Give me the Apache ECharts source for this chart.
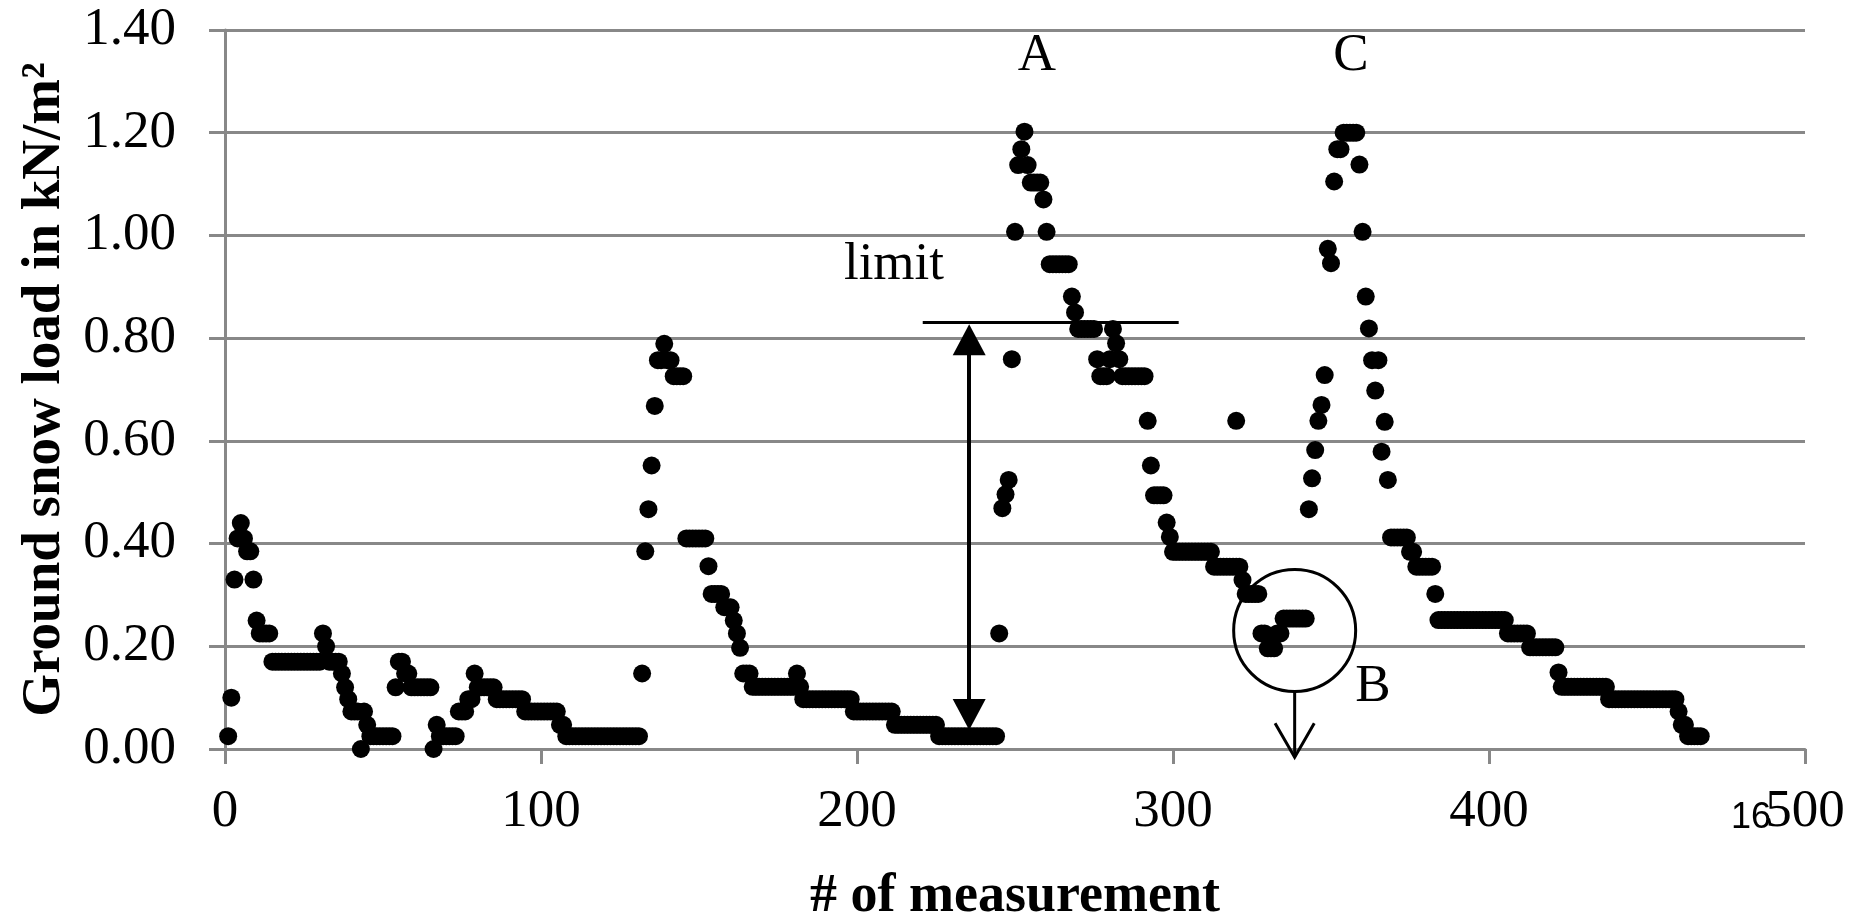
<!DOCTYPE html>
<html>
<head>
<meta charset="utf-8">
<script src="https://cdn.jsdelivr.net/npm/echarts@6/dist/echarts.min.js"></script>
<style>
html,body{margin:0;padding:0;background:#fff;}
#chart{width:1858px;height:914px;}
</style>
</head>
<body>
<div id="chart"></div>
<script>
// Ground snow load (kN/m2) for measurement #1, #2, #3, ...
const snowLoad = [
  0.025,0.10,0.33,0.41,0.44,0.41,0.385,0.385,0.33,0.25,
  0.225,0.225,0.225,0.225,0.17,0.17,0.17,0.17,0.17,0.17,
  0.17,0.17,0.17,0.17,0.17,0.17,0.17,0.17,0.17,0.17,
  0.225,0.2,0.17,0.17,0.17,0.17,0.147,0.12,0.097,0.073,
  0.073,0.073,0.0,0.073,0.047,0.025,0.025,0.025,0.025,0.025,
  0.025,0.025,0.025,0.12,0.17,0.17,0.147,0.147,0.12,0.12,
  0.12,0.12,0.12,0.12,0.12,0.0,0.047,0.025,0.025,0.025,
  0.025,0.025,0.025,0.073,0.073,0.073,0.097,0.097,0.147,0.12,
  0.12,0.12,0.12,0.12,0.12,0.097,0.097,0.097,0.097,0.097,
  0.097,0.097,0.097,0.097,0.073,0.073,0.073,0.073,0.073,0.073,
  0.073,0.073,0.073,0.073,0.073,0.047,0.047,0.025,0.025,0.025,
  0.025,0.025,0.025,0.025,0.025,0.025,0.025,0.025,0.025,0.025,
  0.025,0.025,0.025,0.025,0.025,0.025,0.025,0.025,0.025,0.025,
  0.025,0.147,0.385,0.467,0.552,0.668,0.757,0.757,0.789,0.757,
  0.757,0.726,0.726,0.726,0.726,0.41,0.41,0.41,0.41,0.41,
  0.41,0.41,0.356,0.302,0.302,0.302,0.302,0.276,0.276,0.276,
  0.25,0.225,0.197,0.147,0.147,0.147,0.121,0.121,0.121,0.121,
  0.121,0.121,0.121,0.121,0.121,0.121,0.121,0.121,0.121,0.121,
  0.147,0.121,0.097,0.097,0.097,0.097,0.097,0.097,0.097,0.097,
  0.097,0.097,0.097,0.097,0.097,0.097,0.097,0.097,0.073,0.073,
  0.073,0.073,0.073,0.073,0.073,0.073,0.073,0.073,0.073,0.073,
  0.073,0.047,0.047,0.047,0.047,0.047,0.047,0.047,0.047,0.047,
  0.047,0.047,0.047,0.047,0.047,0.025,0.025,0.025,0.025,0.025,
  0.025,0.025,0.025,0.025,0.025,0.025,0.025,0.025,0.025,0.025,
  0.025,0.025,0.025,0.025,0.225,0.469,0.496,0.524,0.759,1.007,
  1.137,1.168,1.202,1.137,1.103,1.103,1.103,1.103,1.07,1.007,
  0.944,0.944,0.944,0.944,0.944,0.944,0.944,0.881,0.85,0.818,
  0.818,0.818,0.818,0.818,0.818,0.759,0.726,0.726,0.726,0.759,
  0.818,0.79,0.759,0.726,0.726,0.726,0.726,0.726,0.726,0.726,
  0.726,0.639,0.552,0.494,0.494,0.494,0.494,0.441,0.413,0.384,
  0.384,0.384,0.384,0.384,0.384,0.384,0.384,0.384,0.384,0.384,
  0.384,0.384,0.355,0.355,0.355,0.355,0.355,0.355,0.355,0.355,
  0.355,0.329,0.302,0.302,0.302,0.302,0.302,0.225,0.225,0.196,
  0.196,0.196,0.225,0.225,0.254,0.254,0.254,0.254,0.254,0.254,
  0.254,0.254,0.467,0.527,0.582,0.639,0.67,0.728,0.974,0.946,
  1.105,1.168,1.168,1.2,1.2,1.2,1.2,1.2,1.138,1.007,
  0.881,0.819,0.757,0.698,0.757,0.579,0.637,0.524,0.412,0.412,
  0.412,0.412,0.412,0.412,0.384,0.384,0.355,0.355,0.355,0.355,
  0.355,0.355,0.302,0.251,0.251,0.251,0.251,0.251,0.251,0.251,
  0.251,0.251,0.251,0.251,0.251,0.251,0.251,0.251,0.251,0.251,
  0.251,0.251,0.251,0.251,0.251,0.225,0.225,0.225,0.225,0.225,
  0.225,0.225,0.198,0.198,0.198,0.198,0.198,0.198,0.198,0.198,
  0.198,0.149,0.121,0.121,0.121,0.121,0.121,0.121,0.121,0.121,
  0.121,0.121,0.121,0.121,0.121,0.121,0.121,0.097,0.097,0.097,
  0.097,0.097,0.097,0.097,0.097,0.097,0.097,0.097,0.097,0.097,
  0.097,0.097,0.097,0.097,0.097,0.097,0.097,0.097,0.097,0.073,
  0.047,0.047,0.025,0.025,0.025,0.025,0.025
];
// an additional reading plotted at measurement #320
const extraMeasurement = [320];
const extraLoad = [0.639];

const xTickValues = [0, 100, 200, 300, 400, 500];
const yTickValues = [0, 0.2, 0.4, 0.6, 0.8, 1.0, 1.2, 1.4];

// annotation anchors (data coordinates)
const limitLevel = 0.831;
const limitFrom = 220.8, limitTo = 301.8;
const arrowX = 235.5, arrowTop = 0.797, arrowBottom = 0.067;
const circleB = [338.5, 0.2307];
const arrowBFrom = 0.1116, arrowBTip = -0.016, arrowBHeadY = 0.050, arrowBHeadHalf = 6.2;
const labelA = [256.9, 1.350], labelC = [356.3, 1.350];
const labelLimit = [211.7, 0.942], labelB = [363.3, 0.120];

const points = snowLoad.map((v, i) => [i + 1, v]);
extraMeasurement.forEach((m, i) => points.push([m, extraLoad[i]]));

const FONT = 'Liberation Serif';
const GRAY = '#888888';

const chart = echarts.init(document.getElementById('chart'), null, {renderer: 'canvas'});

function textPoint(coord, text) {
  return {
    coord: coord, symbol: 'circle', symbolSize: 1,
    itemStyle: {color: 'rgba(0,0,0,0)', borderWidth: 0},
    label: {show: true, position: 'inside', formatter: text,
      fontFamily: FONT, fontSize: 53, color: '#000'}
  };
}

chart.setOption({
  animation: false,
  backgroundColor: '#fff',
  grid: {left: 225, right: 53, top: 30, bottom: 165, containLabel: false, outerBoundsMode: 'none'},
  xAxis: {
    type: 'value', min: xTickValues[0], max: xTickValues[xTickValues.length - 1],
    interval: xTickValues[1] - xTickValues[0],
    axisLine: {show: true, lineStyle: {color: GRAY, width: 3}},
    axisTick: {show: true, length: 15, lineStyle: {color: GRAY, width: 3}},
    splitLine: {show: false},
    axisLabel: {fontFamily: FONT, fontSize: 53, color: '#000', margin: 37},
    name: '# of measurement', nameLocation: 'middle', nameGap: 121,
    nameTextStyle: {fontFamily: FONT, fontSize: 54, fontWeight: 'bold', color: '#000'}
  },
  yAxis: {
    type: 'value', min: yTickValues[0], max: yTickValues[yTickValues.length - 1],
    interval: yTickValues[1] - yTickValues[0],
    axisLine: {show: true, lineStyle: {color: GRAY, width: 3}},
    axisTick: {show: true, length: 16, lineStyle: {color: GRAY, width: 3}},
    splitLine: {show: true, lineStyle: {color: GRAY, width: 3}},
    axisLabel: {fontFamily: FONT, fontSize: 53, color: '#000', margin: 49,
      formatter: v => v.toFixed(2)},
    name: 'Ground snow load in kN/m²', nameLocation: 'middle', nameRotate: 90, nameGap: 149,
    nameTextStyle: {fontFamily: FONT, fontSize: 55, fontWeight: 'bold', color: '#000'}
  },
  series: [{
    type: 'scatter',
    data: points,
    symbol: 'circle',
    symbolSize: 18,
    itemStyle: {color: '#000', opacity: 1},
    clip: false,
    silent: true,
    markLine: {
      silent: true, animation: false,
      symbol: ['none', 'none'],
      label: {show: false},
      lineStyle: {color: '#000', width: 3, type: 'solid', opacity: 1},
      emphasis: {disabled: true},
      data: [
        [{coord: [limitFrom, limitLevel]}, {coord: [limitTo, limitLevel]}],
        [{coord: [arrowX, arrowTop], symbol: 'triangle', symbolSize: [33, 31]},
         {coord: [arrowX, arrowBottom], symbol: 'triangle', symbolSize: [33, 31],
          lineStyle: {width: 4}}]
      ]
    },
    markPoint: {
      silent: true, animation: false,
      data: [
        {coord: circleB, symbol: 'circle', symbolSize: 122,
          itemStyle: {color: 'rgba(0,0,0,0)', borderColor: '#000', borderWidth: 3},
          label: {show: false}},
        textPoint(labelA, 'A'),
        textPoint(labelC, 'C'),
        textPoint(labelLimit, 'limit'),
        textPoint(labelB, 'B')
      ]
    }
  }]
});

// arrow leaving circle B, placed through the chart's own scales
const px = (x, y) => chart.convertToPixel({gridIndex: 0}, [x, y]);
const bFrom = px(circleB[0], arrowBFrom);
const bTip = px(circleB[0], arrowBTip);
const bLeft = px(circleB[0] - arrowBHeadHalf, arrowBHeadY);
const bRight = px(circleB[0] + arrowBHeadHalf, arrowBHeadY);
const sixteen = px(500, 0);

chart.setOption({
  graphic: [
    {type: 'line', id: 'bShaft', silent: true, z: 10,
      shape: {x1: bFrom[0], y1: bFrom[1], x2: bTip[0], y2: bTip[1]},
      style: {stroke: '#000', lineWidth: 3}},
    {type: 'polyline', id: 'bHead', silent: true, z: 10,
      shape: {points: [bLeft, bTip, bRight]},
      style: {stroke: '#000', lineWidth: 3, fill: null}},
    {type: 'text', id: 'stray16', silent: true, z: 10,
      x: sixteen[0] - 74, y: sixteen[1] + 69,
      style: {text: '16', fontFamily: 'Liberation Sans', fontSize: 36, fill: '#000',
        verticalAlign: 'middle', align: 'left'}}
  ]
});
</script>
</body>
</html>
